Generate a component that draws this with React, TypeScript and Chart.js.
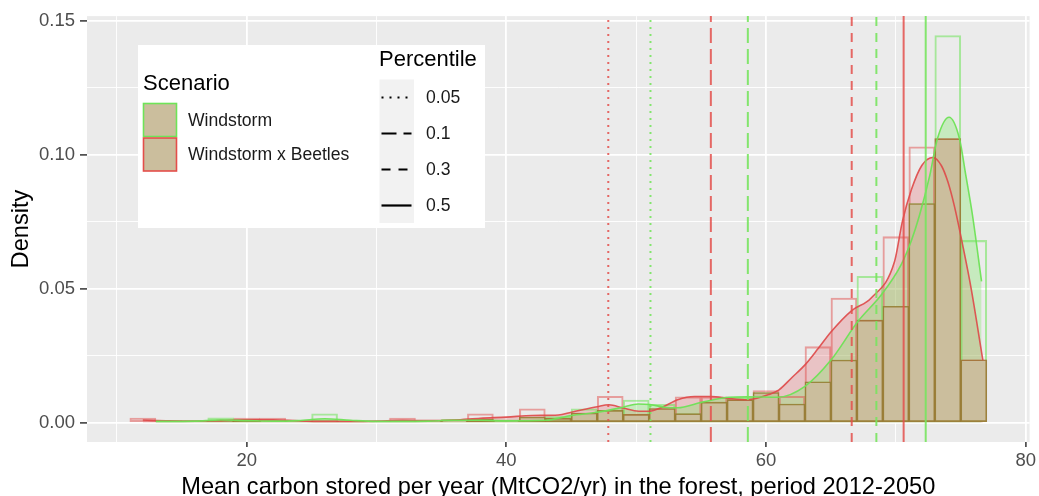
import React, { useEffect, useRef } from "react";
import { Chart, registerables } from "chart.js";

Chart.register(...registerables);

// ---------- data ----------
const BIN_CENTERS = [12, 14, 16, 18, 20, 22, 24, 26, 28, 30, 32, 34, 36, 38, 40, 42, 44, 46, 48, 50, 52, 54, 56, 58, 60, 62, 64, 66, 68, 70, 72, 74, 76];
const WINDSTORM_HIST = [0, 0.0003, 0.0005, 0.0017, 0.001, 0.0005, 0.0005, 0.0032, 0.0005, 0.0003, 0.0005, 0.0005, 0.0012, 0.0012, 0.001, 0.002, 0.0022, 0.0051, 0.0045, 0.0084, 0.0068, 0.0033, 0.0076, 0.0094, 0.0112, 0.0069, 0.0152, 0.0233, 0.0546, 0.0434, 0.0818, 0.1445, 0.068];
const BEETLES_HIST = [0.0016, 0.0007, 0.0005, 0.0008, 0.0016, 0.0016, 0.0005, 0.0005, 0.0005, 0.0003, 0.0016, 0.0005, 0.0005, 0.0032, 0.0007, 0.0051, 0.0015, 0.0035, 0.0098, 0.003, 0.0052, 0.0096, 0.0096, 0.0085, 0.0119, 0.0098, 0.0283, 0.0465, 0.0382, 0.0694, 0.103, 0.106, 0.0234];

const WINDSTORM_KDE_X = [13, 16, 18, 20, 22, 24, 26, 28, 30, 32, 34, 36, 38, 40, 43, 45, 47, 49, 50.15, 51.05, 52.2, 53.2, 55, 57.1, 58.6, 60.9, 63, 65, 67.1, 68.9, 70.4, 71.2, 71.8, 72.6, 73.2, 74.1, 74.9, 75.4, 75.9, 76.6];
const WINDSTORM_KDE_Y = [0.0004, 0.0005, 0.0009, 0.0007, 0.0005, 0.0007, 0.0014, 0.0008, 0.0004, 0.0004, 0.0005, 0.0008, 0.0008, 0.0006, 0.0008, 0.0026, 0.0038, 0.0057, 0.0069, 0.0067, 0.0057, 0.0055, 0.0075, 0.0094, 0.0096, 0.0094, 0.0135, 0.0233, 0.0379, 0.0478, 0.0589, 0.068, 0.077, 0.092, 0.106, 0.114, 0.106, 0.092, 0.0775, 0.0527];

const BEETLES_KDE_X = [12, 14, 16, 18, 20, 22, 24, 26, 28, 30, 32, 34, 36, 38, 40, 42, 44, 45, 47, 47.9, 49, 50.2, 51, 52, 53.2, 54.5, 55.8, 57.1, 58.6, 60.2, 61, 62, 63, 64, 65, 66.6, 68.1, 69.9, 70.5, 71.2, 72, 72.85, 73.5, 74, 74.5, 75.2, 75.8, 76.7];
const BEETLES_KDE_Y = [0.0009, 0.0006, 0.0005, 0.0007, 0.001, 0.001, 0.0006, 0.0004, 0.0004, 0.0005, 0.0008, 0.0007, 0.0009, 0.0016, 0.002, 0.0026, 0.0028, 0.0038, 0.0059, 0.0066, 0.0054, 0.0042, 0.0042, 0.0057, 0.0085, 0.0097, 0.0097, 0.009, 0.0085, 0.0104, 0.0122, 0.0168, 0.0215, 0.0275, 0.0338, 0.0418, 0.0465, 0.0601, 0.075, 0.087, 0.096, 0.099, 0.096, 0.09, 0.081, 0.065, 0.05, 0.0233];

const PERCENTILE_LABELS = ["0.05", "0.1", "0.3", "0.5"];
const WINDSTORM_PCT = [51.1, 58.6, 68.5, 72.3];
const BEETLES_PCT = [47.85, 55.75, 66.6, 70.6];

const SCENARIOS = ["Windstorm", "Windstorm x Beetles"];
const X_TITLE = "Mean carbon stored per year (MtCO2/yr) in the forest, period 2012-2050";
const Y_TITLE = "Density";

const X_MIN = 7.7;
const X_MAX = 80.3;
const Y_MIN = -0.0073;
const Y_MAX = 0.1518;

// ---------- style ----------
const FONT = "'Liberation Sans', Arial, Helvetica, sans-serif";
const GREEN = "rgba(110,228,88,1)";
const RED = "rgba(228,78,74,1)";
const TAN = "#CBBE9D";
const DASHES: number[][] = [[2, 5], [15, 6], [9, 7], []];
const LEGEND_DASHES: number[][] = [[2, 6], [15, 7], [9, 8], []];

const isMult = (v: number, step: number) => Math.abs(v / step - Math.round(v / step)) < 1e-6;
const tickVal = (c: any) => (c && c.tick ? c.tick.value : NaN);

const bgPlugin = {
  id: "panelBg",
  beforeDraw(chart: any) {
    const { ctx, chartArea } = chart;
    ctx.save();
    ctx.fillStyle = "#EBEBEB";
    ctx.fillRect(chartArea.left, chartArea.top, chartArea.right - chartArea.left, chartArea.bottom - chartArea.top);
    ctx.restore();
  },
};

const decorPlugin = {
  id: "decor",
  afterDraw(chart: any) {
    const { ctx, chartArea } = chart;
    ctx.save();
    // axis titles
    ctx.fillStyle = "#000";
    ctx.font = `23.6px ${FONT}`;
    ctx.textAlign = "center";
    ctx.textBaseline = "alphabetic";
    ctx.fillText(X_TITLE, (chartArea.left + chartArea.right) / 2, 494);
    ctx.save();
    ctx.translate(28, (chartArea.top + chartArea.bottom) / 2);
    ctx.rotate(-Math.PI / 2);
    ctx.fillText(Y_TITLE, 0, 0);
    ctx.restore();

    // legend box
    ctx.fillStyle = "#FFFFFF";
    ctx.fillRect(138, 45, 347, 183);

    // Scenario legend
    ctx.textAlign = "left";
    ctx.fillStyle = "#000";
    ctx.font = `22px ${FONT}`;
    ctx.fillText("Scenario", 143, 90);
    const keyCols = [GREEN, RED];
    SCENARIOS.forEach((s, i) => {
      const y = 103.5 + i * 34.5;
      ctx.fillStyle = TAN;
      ctx.fillRect(143.5, y, 33, 33);
      ctx.strokeStyle = keyCols[i];
      ctx.lineWidth = 1.6;
      ctx.strokeRect(143.5, y, 33, 33);
      ctx.fillStyle = "#1A1A1A";
      ctx.font = `17.6px ${FONT}`;
      ctx.textBaseline = "middle";
      ctx.fillText(s, 188, y + 17.5);
      ctx.textBaseline = "alphabetic";
    });

    // Percentile legend
    ctx.fillStyle = "#000";
    ctx.font = `22px ${FONT}`;
    ctx.fillText("Percentile", 379, 66);
    ctx.fillStyle = "#F2F2F2";
    ctx.fillRect(379.5, 79.5, 34.5, 143.5);
    PERCENTILE_LABELS.forEach((p, i) => {
      const cy = 97.5 + i * 36;
      ctx.strokeStyle = "#000";
      ctx.lineWidth = 2.2;
      ctx.lineCap = "butt";
      ctx.setLineDash(LEGEND_DASHES[i]);
      ctx.beginPath();
      ctx.moveTo(381.5, cy);
      ctx.lineTo(411.5, cy);
      ctx.stroke();
      ctx.setLineDash([]);
      ctx.fillStyle = "#1A1A1A";
      ctx.font = `17.6px ${FONT}`;
      ctx.textBaseline = "middle";
      ctx.fillText(p, 426, cy + 1);
      ctx.textBaseline = "alphabetic";
    });
    ctx.restore();
  },
};

export default function App() {
  const canvasRef = useRef<HTMLCanvasElement | null>(null);

  useEffect(() => {
    document.body.style.margin = "0";
    const canvas = canvasRef.current;
    if (!canvas) return;

    const pts = (xs: number[], ys: number[]) => xs.map((x, i) => ({ x, y: ys[i] }));
    const windHist = pts(BIN_CENTERS, WINDSTORM_HIST);
    const beetHist = pts(BIN_CENTERS, BEETLES_HIST);
    const overlap = BIN_CENTERS.map((x, i) => ({ x, y: Math.min(WINDSTORM_HIST[i], BEETLES_HIST[i]) }));
    const windKde = pts(WINDSTORM_KDE_X, WINDSTORM_KDE_Y);
    const beetKde = pts(BEETLES_KDE_X, BEETLES_KDE_Y);

    const barCommon = {
      type: "bar" as const,
      grouped: false,
      barPercentage: 1,
      categoryPercentage: 1,
      borderSkipped: false,
    };
    const lineCommon = {
      type: "line" as const,
      pointRadius: 0,
      cubicInterpolationMode: "monotone" as const,
    };

    const pctDatasets: any[] = [];
    PERCENTILE_LABELS.forEach((lab, i) => {
      pctDatasets.push({
        type: "line",
        label: `Windstorm p${lab}`,
        data: [{ x: WINDSTORM_PCT[i], y: Y_MIN }, { x: WINDSTORM_PCT[i], y: Y_MAX }],
        borderColor: "rgba(120,228,95,0.9)",
        borderWidth: 2,
        borderDash: DASHES[i],
        borderCapStyle: "butt",
        pointRadius: 0,
        fill: false,
        order: 1,
      });
      pctDatasets.push({
        type: "line",
        label: `Beetles p${lab}`,
        data: [{ x: BEETLES_PCT[i], y: Y_MIN }, { x: BEETLES_PCT[i], y: Y_MAX }],
        borderColor: "rgba(228,80,76,0.85)",
        borderWidth: 2,
        borderDash: DASHES[i],
        borderCapStyle: "butt",
        pointRadius: 0,
        fill: false,
        order: 1,
      });
    });

    const chart = new Chart(canvas, {
      type: "bar",
      data: {
        datasets: [
          { ...lineCommon, label: "bkde-fill", data: beetKde, fill: "origin", backgroundColor: "rgba(228,80,88,0.26)", borderWidth: 0, borderColor: "rgba(0,0,0,0)", order: 9 },
          { ...lineCommon, label: "wkde-fill", data: windKde, fill: "origin", backgroundColor: "rgba(120,232,95,0.32)", borderWidth: 0, borderColor: "rgba(0,0,0,0)", order: 8 },
          { ...barCommon, label: "Windstorm x Beetles", data: beetHist, backgroundColor: "rgba(0,0,0,0)", borderColor: "rgba(226,80,78,0.5)", borderWidth: 1.4, order: 7 },
          { ...barCommon, label: "Windstorm", data: windHist, backgroundColor: "rgba(0,0,0,0)", borderColor: "rgba(110,228,88,0.55)", borderWidth: 1.4, order: 6 },
          { ...barCommon, label: "both", data: overlap, backgroundColor: TAN, borderColor: "rgba(155,112,48,0.8)", borderWidth: 1.6, order: 5 },
          { ...lineCommon, label: "bkde", data: beetKde, fill: false, borderColor: "rgba(222,72,72,0.9)", borderWidth: 1.6, order: 4 },
          { ...lineCommon, label: "wkde", data: windKde, fill: false, borderColor: "rgba(110,226,86,0.95)", borderWidth: 1.6, order: 3 },
          ...pctDatasets,
        ] as any,
      },
      options: {
        responsive: false,
        animation: false,
        events: [],
        devicePixelRatio: 1,
        layout: { padding: { top: 13, right: 7, bottom: 0, left: 0 } },
        plugins: { legend: { display: false }, tooltip: { enabled: false }, title: { display: false } },
        scales: {
          x: {
            type: "linear",
            min: X_MIN,
            max: X_MAX,
            offset: false,
            border: { display: false },
            grid: {
              offset: false,
              color: "#FFFFFF",
              lineWidth: (c: any) => (isMult(tickVal(c), 20) ? 1.8 : 0.9),
              tickColor: (c: any) => (isMult(tickVal(c), 20) ? "#333333" : "rgba(0,0,0,0)"),
              tickLength: 5,
              tickWidth: 1.5,
            },
            ticks: {
              stepSize: 10,
              includeBounds: false,
              autoSkip: false,
              maxRotation: 0,
              padding: 3,
              color: "#4D4D4D",
              font: { family: FONT, size: 18.5 },
              callback: (v: any) => (isMult(Number(v), 20) ? String(Math.round(Number(v))) : ""),
            },
            afterBuildTicks: (s: any) => {
              s.ticks = s.ticks.filter((t: any) => t.value >= s.min && t.value <= s.max && isMult(t.value, 10));
            },
            afterFit: (s: any) => {
              s.height = 54;
            },
          } as any,
          y: {
            type: "linear",
            min: Y_MIN,
            max: Y_MAX,
            border: { display: false },
            grid: {
              offset: false,
              color: "#FFFFFF",
              lineWidth: (c: any) => (isMult(tickVal(c), 0.05) ? 1.8 : 0.9),
              tickColor: (c: any) => (isMult(tickVal(c), 0.05) ? "#333333" : "rgba(0,0,0,0)"),
              tickLength: 7,
              tickWidth: 1.5,
            },
            ticks: {
              stepSize: 0.025,
              includeBounds: false,
              autoSkip: false,
              padding: 5,
              color: "#4D4D4D",
              font: { family: FONT, size: 18.5 },
              callback: (v: any) => (isMult(Number(v), 0.05) ? Number(v).toFixed(2) : ""),
            },
            afterBuildTicks: (s: any) => {
              s.ticks = s.ticks.filter((t: any) => t.value >= s.min && t.value <= s.max && isMult(t.value, 0.025));
            },
            afterFit: (s: any) => {
              s.width = 87;
            },
          } as any,
        },
      },
      plugins: [bgPlugin, decorPlugin],
    });

    return () => chart.destroy();
  }, []);

  return (
    <div style={{ width: 1039, height: 496 }}>
      <canvas ref={canvasRef} width={1039} height={496} style={{ display: "block" }} />
    </div>
  );
}
